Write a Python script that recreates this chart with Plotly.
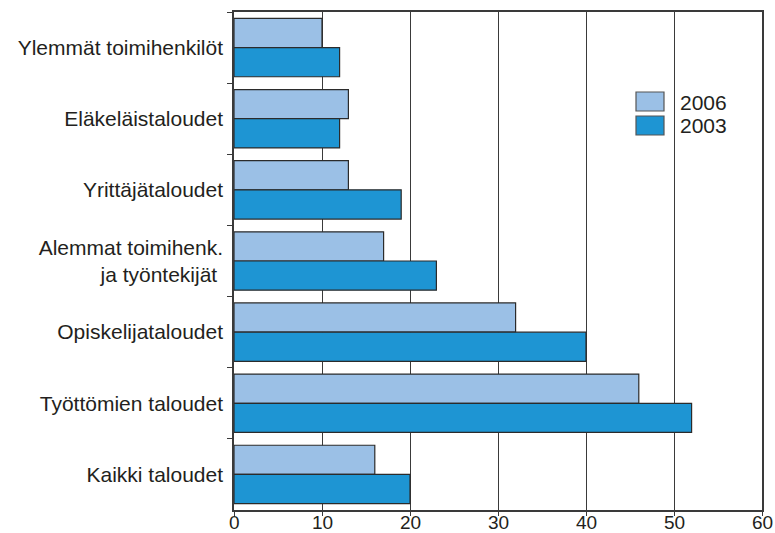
import plotly.graph_objects as go

categories = [
    "Ylemmät toimihenkilöt",
    "Eläkeläistaloudet",
    "Yrittäjätaloudet",
    "Alemmat toimihenk.<br>ja työntekijät\u00a0",
    "Opiskelijataloudet",
    "Työttömien taloudet",
    "Kaikki taloudet",
]
values_2006 = [10, 13, 13, 17, 32, 46, 16]
values_2003 = [12, 12, 19, 23, 40, 52, 20]
series_names = ["2006", "2003"]
colors = ["#9bc0e6", "#1e95d3"]
x_ticks = [0, 10, 20, 30, 40, 50, 60]

FONT = "Liberation Sans, Arial, sans-serif"
TXT = "#231f20"
FS = 21

fig = go.Figure()
for name, vals, col in zip(series_names, [values_2006, values_2003], colors):
    fig.add_trace(go.Bar(
        y=categories, x=vals, name=name, orientation="h",
        marker=dict(color=col, line=dict(color="#2b2b2b", width=1.2)),
        showlegend=False,
    ))

# custom legend (swatches + labels) in paper coordinates
W, H = 775, 533
ml, mr, mt, mb = 234, 13, 12, 23
pw, ph = W - ml - mr, H - mt - mb

def px_x(x):
    return (x - ml) / pw

def px_y(y):
    return 1 - (y - mt) / ph

for i, (name, col) in enumerate(zip(series_names, colors)):
    y0 = 92 + i * 24
    fig.add_shape(type="rect", xref="paper", yref="paper",
                  x0=px_x(636), x1=px_x(664), y0=px_y(y0 + 19), y1=px_y(y0),
                  fillcolor=col, line=dict(color="#555555", width=1.2))
    fig.add_annotation(xref="paper", yref="paper", x=px_x(678), y=px_y(y0 + 10),
                       text=name, showarrow=False, xanchor="left", yanchor="middle",
                       font=dict(family=FONT, size=FS, color=TXT))

# x tick labels placed tight under the axis (as in the reference)
for v in x_ticks:
    fig.add_annotation(xref="x", yref="paper", x=v, y=px_y(511),
                       text=str(v), showarrow=False, xanchor="center", yanchor="top",
                       borderpad=0, font=dict(family=FONT, size=19, color=TXT))

fig.update_layout(
    width=W, height=H,
    margin=dict(l=ml, r=mr, t=mt, b=mb, pad=0, autoexpand=False),
    paper_bgcolor="white", plot_bgcolor="white",
    barmode="group", bargap=0.18, bargroupgap=0,
    font=dict(family=FONT, size=FS, color=TXT),
)
fig.update_xaxes(
    range=[0, 60], tickvals=x_ticks, showticklabels=False,
    showgrid=True, gridcolor="#3a3a3a", gridwidth=1,
    showline=True, linecolor="#3a3a3a", linewidth=1.5, mirror=True,
    ticks="outside", ticklen=4, tickcolor="#3a3a3a", tickwidth=1.2,
    zeroline=False, automargin=False,
)
fig.update_yaxes(
    autorange="reversed", tickson="boundaries",
    showgrid=False, showline=True, linecolor="#3a3a3a", linewidth=1.5, mirror=True,
    ticks="outside", ticklen=5, tickcolor="#3a3a3a", tickwidth=1.2,
    ticklabelstandoff=5, tickfont=dict(size=FS), automargin=False,
)

fig.write_html("out.html", config={"displayModeBar": False},
               post_script="document.body.style.margin='0';document.body.style.overflow='hidden';")
